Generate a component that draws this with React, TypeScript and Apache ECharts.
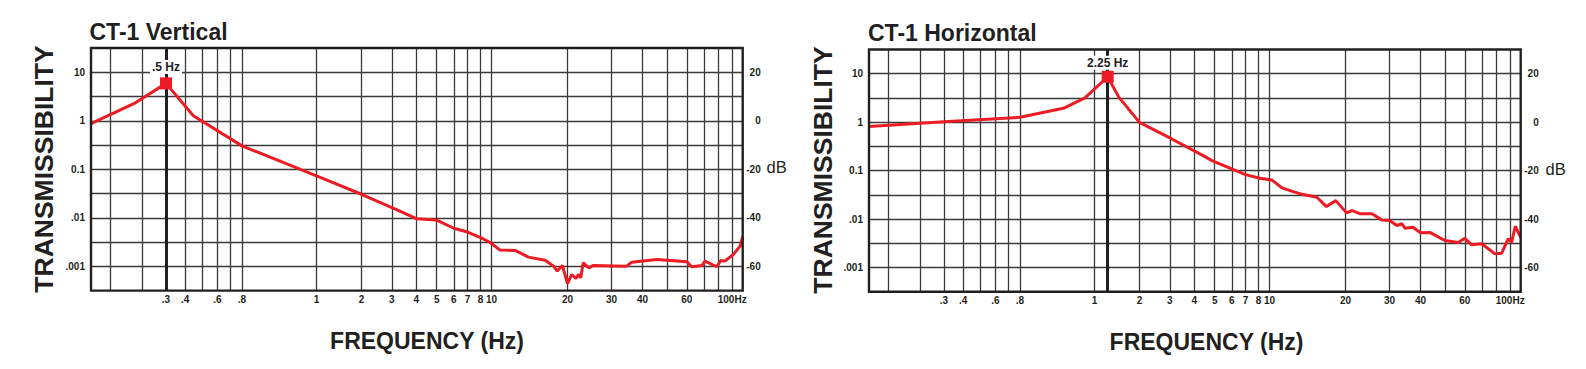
import { useEffect, useRef } from "react";
import * as echarts from "echarts";

// ---- Frequency scale of the chart paper (non-uniform log paper): knot frequencies and their scale positions
const FREQ_SCALE_HZ = [0.08, 0.1, 0.2, 0.3, 0.4, 0.5, 0.6, 0.7, 0.8, 1, 2, 3, 4, 5, 6, 7, 8, 10, 20, 30, 40, 50, 60, 70, 80, 90, 100];
const FREQ_SCALE_POS = [0, 18.8, 50.8, 75, 94.2, 111.2, 126.4, 139.2, 151, 225.5, 270.5, 300.8, 325.3, 345.7, 362.8, 376.5, 389.6, 400.6, 476.5, 520.6, 551.5, 575.8, 595.8, 612.8, 627.3, 641, 651.7];

// ---- Axis ticks
const X_GRID_HZ = [0.1, 0.2, 0.3, 0.4, 0.5, 0.6, 0.7, 0.8, 1, 2, 3, 4, 5, 6, 7, 8, 10, 20, 30, 40, 50, 60, 70, 80, 90];
const X_LABEL_HZ = [0.3, 0.4, 0.6, 0.8, 1, 2, 3, 4, 5, 6, 7, 8, 10, 20, 30, 40, 60, 100];
const X_LABEL_TEXT = [".3", ".4", ".6", ".8", "1", "2", "3", "4", "5", "6", "7", "8", "10", "20", "30", "40", "60", "100Hz"];
const Y_LABEL_VALUES = [10, 1, 0.1, 0.01, 0.001];
const Y_LABEL_TEXT = ["10", "1", "0.1", ".01", ".001"];
const DB_LABEL_VALUES = [20, 0, -20, -40, -60];

// ---- CT-1 Vertical
const VERT_HZ = [0.08, 0.17, 0.3, 0.445, 0.8, 1, 2, 3.3, 4, 5, 6, 7, 8, 9.8, 10.8, 12.4, 14, 16.3, 17.6, 18.2, 19.1, 20, 20.8, 21.6, 22.1, 22.6, 23.1, 24.4, 25.3, 34.5, 36.2, 45.6, 60, 62.7, 68.8, 70.8, 78.9, 81.7, 84.7, 91.2, 97.5, 100];
const VERT_T = [0.87, 2.28, 5.9, 1.27, 0.304, 0.073, 0.0306, 0.0138, 0.0096, 0.009, 0.0061, 0.0051, 0.0039, 0.00306, 0.00216, 0.00213, 0.00155, 0.00134, 0.00101, 0.0008, 0.00104, 0.00044, 0.00068, 0.00056, 0.00068, 0.00058, 0.00118, 0.00093, 0.00104, 0.00101, 0.00122, 0.00139, 0.00124, 0.00098, 0.00104, 0.00128, 0.00098, 0.00132, 0.00128, 0.00176, 0.00261, 0.0041];
const VERT_PEAK_HZ = 0.3;
const VERT_PEAK_T = 5.9;
const VERT_PEAK_LABEL = ".5 Hz";

// ---- CT-1 Horizontal
const HORZ_HZ = [0.08, 0.3, 0.8, 0.911, 0.972, 1.225, 1.458, 2, 3.07, 4.5, 4.85, 7, 8.2, 10.2, 11.2, 12.4, 13.6, 15.4, 16.8, 18.3, 20.2, 21.3, 22.9, 25.5, 27.9, 30, 32.1, 33.6, 34.6, 37.3, 40, 43.6, 50, 56.6, 60, 63.9, 70, 79, 83.8, 88.6, 91.5, 94.8, 100];
const HORZ_T = [0.815, 1.02, 1.26, 1.93, 3.16, 8.67, 3.25, 0.99, 0.45, 0.194, 0.161, 0.0827, 0.0694, 0.0643, 0.044, 0.0369, 0.032, 0.0282, 0.0181, 0.024, 0.0134, 0.015, 0.0128, 0.0128, 0.0096, 0.0093, 0.00735, 0.008, 0.00646, 0.00678, 0.0052, 0.0053, 0.0036, 0.00327, 0.004, 0.00294, 0.00308, 0.00191, 0.00197, 0.0039, 0.00332, 0.0071, 0.0042];
const HORZ_PEAK_HZ = 1.225;
const HORZ_PEAK_T = 8.67;
const HORZ_PEAK_LABEL = "2.25 Hz";

const INK = "#231f20";
const RED = "#ed1c24";
const GRIDLINE = "#3a3a3a";
const FONT = '"Liberation Sans", Arial, Helvetica, sans-serif';

function hzToPos(f: number): number {
  const n = FREQ_SCALE_HZ.length;
  if (f <= FREQ_SCALE_HZ[0]) return FREQ_SCALE_POS[0];
  if (f >= FREQ_SCALE_HZ[n - 1]) return FREQ_SCALE_POS[n - 1];
  for (let i = 0; i < n - 1; i++) {
    const f0 = FREQ_SCALE_HZ[i];
    const f1 = FREQ_SCALE_HZ[i + 1];
    if (f >= f0 && f <= f1) {
      const t = Math.log(f / f0) / Math.log(f1 / f0);
      return FREQ_SCALE_POS[i] + t * (FREQ_SCALE_POS[i + 1] - FREQ_SCALE_POS[i]);
    }
  }
  return FREQ_SCALE_POS[n - 1];
}

function xLabel(value: number): string {
  for (let i = 0; i < X_LABEL_HZ.length; i++) {
    if (Math.abs(hzToPos(X_LABEL_HZ[i]) - value) < 0.01) {
      const txt = X_LABEL_TEXT[i];
      return txt === "100Hz" ? "{hz|" + txt + "}" : txt;
    }
  }
  return "";
}

function yLabel(value: number): string {
  for (let i = 0; i < Y_LABEL_VALUES.length; i++) {
    if (Math.abs(Math.log10(value) - Math.log10(Y_LABEL_VALUES[i])) < 1e-6) return Y_LABEL_TEXT[i];
  }
  return "";
}

const X_MAX = FREQ_SCALE_POS[FREQ_SCALE_POS.length - 1];

function makeXAxis(gridIndex: number) {
  return {
    type: "value",
    gridIndex,
    min: 0,
    max: X_MAX,
    axisLine: { show: false },
    axisTick: { show: false, customValues: X_GRID_HZ.map(hzToPos) },
    splitLine: { show: true, lineStyle: { color: GRIDLINE, width: 1.3 } },
    axisLabel: {
      customValues: X_LABEL_HZ.map(hzToPos),
      formatter: xLabel,
      margin: 4,
      fontSize: 10,
      lineHeight: 10,
      fontWeight: "bold",
      fontFamily: FONT,
      color: INK,
      rich: {
        hz: { padding: [0, 21, 0, 0], fontSize: 10, lineHeight: 10, fontWeight: "bold", fontFamily: FONT, color: INK },
      },
    },
  };
}

function makeYAxes(gridIndex: number) {
  return [
    {
      type: "log",
      gridIndex,
      logBase: 10,
      min: Math.pow(10, -3.5),
      max: Math.pow(10, 1.5),
      interval: 0.5,
      axisLine: { show: false },
      axisTick: { show: false },
      splitLine: { show: true, showMinLine: false, showMaxLine: false, lineStyle: { color: GRIDLINE, width: 1.3 } },
      axisLabel: { formatter: yLabel, margin: 6, fontSize: 10, fontWeight: "bold", fontFamily: FONT, color: INK },
    },
    {
      type: "value",
      gridIndex,
      position: "right",
      min: -70,
      max: 30,
      interval: 10,
      axisLine: { show: false },
      axisTick: { show: false },
      splitLine: { show: false },
      axisLabel: {
        formatter: (v: number) => (DB_LABEL_VALUES.indexOf(v) >= 0 ? String(v) : ""),
        align: "right",
        margin: 18,
        fontSize: 10,
        fontWeight: "bold",
        fontFamily: FONT,
        color: INK,
      },
    },
  ];
}

function makeSeries(idx: number, hz: number[], t: number[], peakHz: number, peakT: number, peakLabel: string, labelDist: number) {
  return [
    {
      type: "line",
      xAxisIndex: idx,
      yAxisIndex: idx * 2,
      data: hz.map((f, i) => [hzToPos(f), t[i]]),
      symbol: "none",
      lineStyle: { color: RED, width: 3 },
      z: 3,
      markLine: {
        silent: true,
        symbol: "none",
        label: { show: false },
        lineStyle: { color: INK, width: 3, type: "solid", opacity: 1 },
        data: [{ xAxis: hzToPos(peakHz) }],
      },
    },
    {
      type: "scatter",
      xAxisIndex: idx,
      yAxisIndex: idx * 2,
      data: [[hzToPos(peakHz), peakT]],
      symbol: "rect",
      symbolSize: 12,
      itemStyle: { color: RED, opacity: 1 },
      z: 6,
      label: {
        show: true,
        position: "top",
        distance: labelDist,
        formatter: peakLabel,
        backgroundColor: "#ffffff",
        padding: [1, 2],
        fontSize: 12,
        lineHeight: 12,
        fontWeight: "bold",
        fontFamily: FONT,
        color: INK,
        opacity: 1,
      },
    },
  ];
}

function textEl(text: string, x: number, y: number, size: number, weight: string, align: string, rotation = 0) {
  return {
    type: "text",
    x,
    y,
    rotation,
    silent: true,
    style: {
      text,
      fill: INK,
      fontSize: size,
      fontWeight: weight,
      fontFamily: FONT,
      align,
      textAlign: align,
      verticalAlign: "middle",
      textVerticalAlign: "middle",
    },
  };
}

export default function App() {
  const ref = useRef<HTMLDivElement>(null);
  useEffect(() => {
    if (!ref.current) return;
    const chart = echarts.init(ref.current, undefined, { renderer: "svg" });
    const yA = makeYAxes(0);
    const yB = makeYAxes(1);
    chart.setOption({
      animation: false,
      backgroundColor: "#ffffff",
      grid: [
        { left: 91, top: 48, width: 651.7, height: 242.6, show: true, borderColor: INK, borderWidth: 2.4, z: 10, backgroundColor: "transparent" },
        { left: 869, top: 49.5, width: 651.7, height: 242.2, show: true, borderColor: INK, borderWidth: 2.4, z: 10, backgroundColor: "transparent" },
      ],
      xAxis: [makeXAxis(0), makeXAxis(1)],
      yAxis: [yA[0], yA[1], yB[0], yB[1]],
      series: [
        ...makeSeries(0, VERT_HZ, VERT_T, VERT_PEAK_HZ, VERT_PEAK_T, VERT_PEAK_LABEL, 3.5),
        ...makeSeries(1, HORZ_HZ, HORZ_T, HORZ_PEAK_HZ, HORZ_PEAK_T, HORZ_PEAK_LABEL, 1),
      ],
      graphic: [
        textEl("CT-1 Vertical", 89.5, 31.5, 23, "bold", "left"),
        textEl("CT-1 Horizontal", 868, 33, 23, "bold", "left"),
        textEl("TRANSMISSIBILITY", 44, 169, 26.5, "bold", "center", Math.PI / 2),
        textEl("TRANSMISSIBILITY", 822.5, 170, 26.5, "bold", "center", Math.PI / 2),
        textEl("FREQUENCY (Hz)", 427, 341, 23, "bold", "center"),
        textEl("FREQUENCY (Hz)", 1206.5, 341.5, 23, "bold", "center"),
        textEl("dB", 766.5, 167, 16.5, "normal", "left"),
        textEl("dB", 1545.5, 168.5, 16.5, "normal", "left"),
      ],
    });
    return () => chart.dispose();
  }, []);
  return <div ref={ref} style={{ position: "absolute", left: 0, top: 0, width: 1586, height: 369 }} />;
}
